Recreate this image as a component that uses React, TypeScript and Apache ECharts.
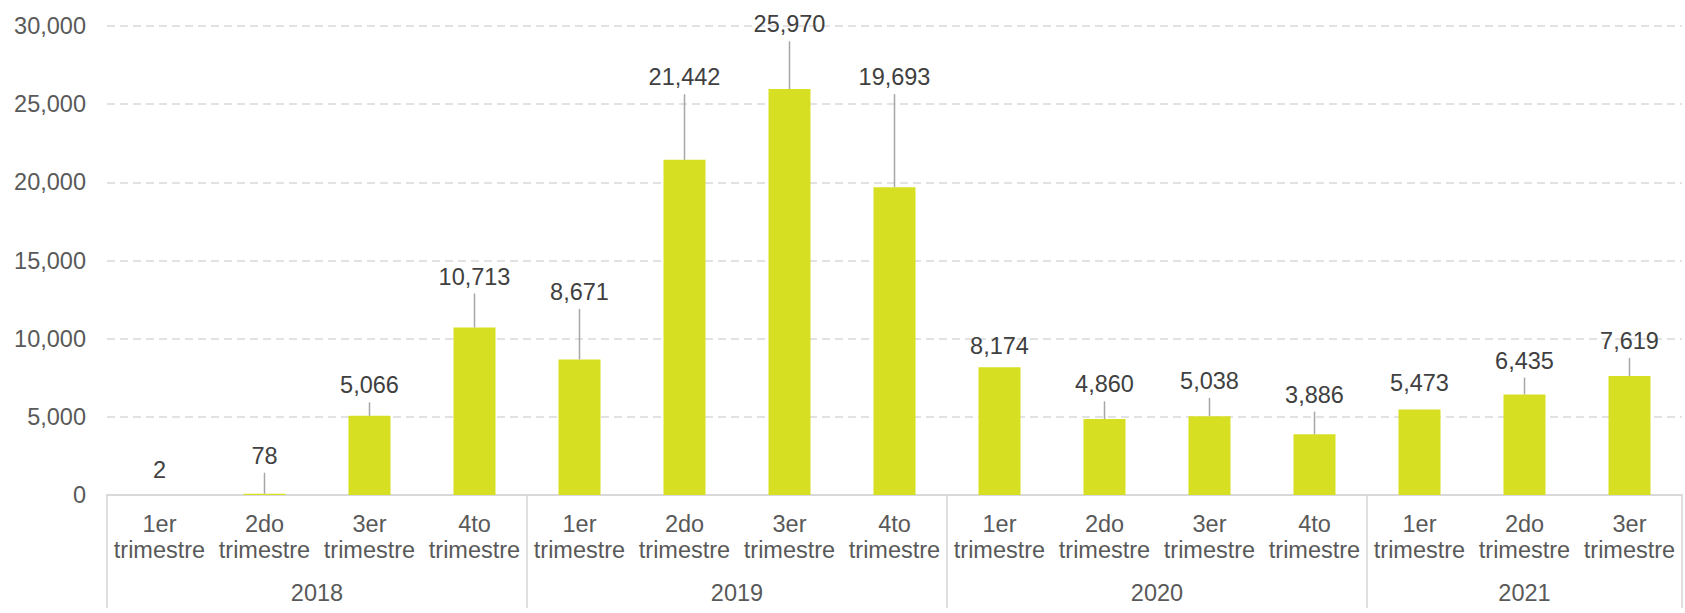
import React, { useEffect, useRef } from "react";
import * as echarts from "echarts";

const quarterNames = ["1er", "2do", "3er", "4to"];
const years = ["2018", "2019", "2020", "2021"];
const quartersPerYear = [4, 4, 4, 3];
const values = [2, 78, 5066, 10713, 8671, 21442, 25970, 19693, 8174, 4860, 5038, 3886, 5473, 6435, 7619];
const yTicks = [0, 5000, 10000, 15000, 20000, 25000, 30000];

// layout: how far (px) each value label sits above its bar top
const labelLift = [24.5, 38, 30.5, 51, 67.5, 82.5, 64.7, 110, 21, 34.7, 35.4, 39.6, 26.8, 33.8, 35];

const FONT = "Liberation Sans, Arial, sans-serif";
const FS = 23.5;

export default function App() {
  const ref = useRef<HTMLDivElement>(null);
  useEffect(() => {
    document.body.style.margin = "0";
    if (!ref.current) return;
    const chart = echarts.init(ref.current, null, { renderer: "svg" });

    const categories: string[] = [];
    quartersPerYear.forEach((n) => {
      for (let q = 0; q < n; q++) categories.push(quarterNames[q] + "\ntrimestre");
    });
    const totalQ = categories.length;
    const slotData: string[] = [];
    for (let k = 0; k <= totalQ * 2; k++) slotData.push("s" + k);
    const yearAtSlot: Record<number, string> = {};
    const boundarySlots = new Set<number>();
    let b = 0;
    quartersPerYear.forEach((n, i) => {
      boundarySlots.add(2 * b);
      yearAtSlot[2 * b + n] = years[i];
      b += n;
    });
    boundarySlots.add(2 * b);

    const fmt = (v: number) => v.toLocaleString("en-US");

    chart.setOption({
      animation: false,
      backgroundColor: "#ffffff",
      textStyle: { fontFamily: FONT },
      grid: { left: 107, right: 1, top: 26, bottom: 118, containLabel: false },
      xAxis: [
        {
          type: "category",
          data: categories,
          position: "bottom",
          axisLine: { show: true, lineStyle: { color: "#d9d9d9", width: 2 } },
          axisTick: { show: false },
          axisLabel: {
            interval: 0,
            color: "#595959",
            fontSize: FS,
            fontFamily: FONT,
            lineHeight: 26.5,
            margin: 15.5,
          },
        },
        {
          type: "category",
          data: slotData,
          boundaryGap: false,
          position: "bottom",
          axisLine: { show: false },
          axisTick: {
            show: true,
            length: 113,
            interval: (index: number) => boundarySlots.has(index),
            lineStyle: { color: "#d4d4d4", width: 1.5 },
          },
          axisLabel: {
            interval: 0,
            color: "#595959",
            fontSize: FS,
            fontFamily: FONT,
            lineHeight: 26.5,
            margin: 85,
            formatter: (_v: string, index: number) => yearAtSlot[index] ?? "",
          },
        },
      ],
      yAxis: {
        type: "value",
        min: yTicks[0],
        max: yTicks[yTicks.length - 1],
        interval: yTicks[1] - yTicks[0],
        axisLine: { show: false },
        axisTick: { show: false },
        axisLabel: {
          color: "#595959",
          fontSize: FS,
          fontFamily: FONT,
          margin: 21,
          formatter: (v: number) => fmt(v),
        },
        splitLine: {
          show: true,
          lineStyle: { color: "#d9d9d9", width: 1.5, type: [8, 5] },
        },
      },
      series: [
        {
          type: "bar",
          xAxisIndex: 0,
          data: values,
          barWidth: 42,
          itemStyle: { color: "#d7df23" },
          z: 2,
        },
        {
          type: "custom",
          xAxisIndex: 0,
          data: values.map((v, i) => [i, v]),
          encode: { x: 0, y: 1 },
          z: 3,
          renderItem: (params: any, api: any) => {
            const i = api.value(0);
            const v = api.value(1);
            const pt = api.coord([i, v]);
            const x = pt[0];
            const yTop = pt[1];
            const cy = yTop - labelLift[params.dataIndex];
            const children: any[] = [
              {
                type: "text",
                x,
                y: cy,
                style: {
                  text: fmt(v),
                  align: "center",
                  verticalAlign: "middle",
                  fontSize: FS,
                  fontFamily: FONT,
                  fill: "#404040",
                },
              },
            ];
            const start = cy + 17;
            if (yTop - start > 12) {
              children.push({
                type: "line",
                shape: { x1: x, y1: start, x2: x, y2: yTop },
                style: { stroke: "#a6a6a6", lineWidth: 1.5 },
              });
            }
            return { type: "group", children };
          },
        },
      ],
    });
    return () => chart.dispose();
  }, []);
  return <div ref={ref} style={{ width: 1685, height: 613 }} />;
}
